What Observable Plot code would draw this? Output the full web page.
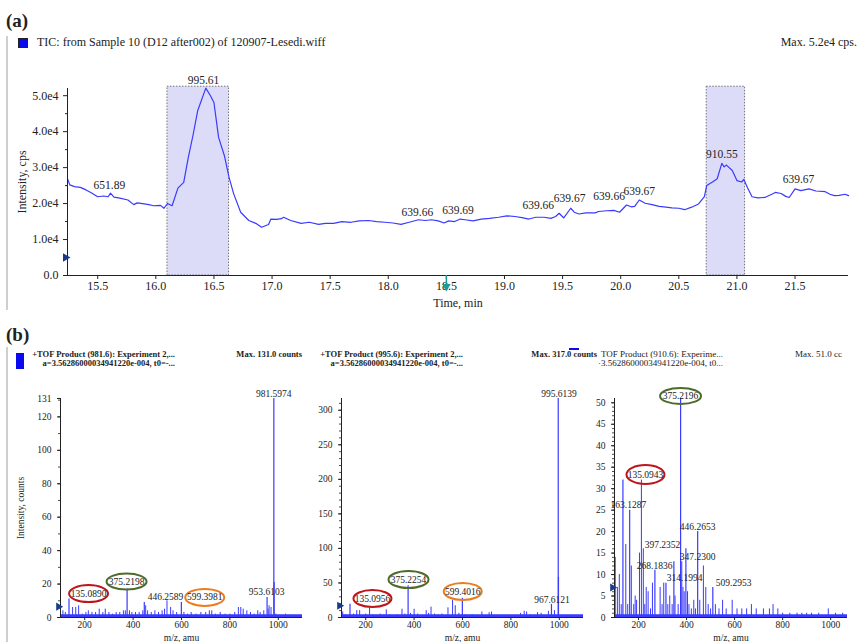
<!DOCTYPE html>
<html><head><meta charset="utf-8">
<script src="https://cdn.jsdelivr.net/npm/d3@7"></script>
<script src="https://cdn.jsdelivr.net/npm/@observablehq/plot@0.6"></script>
<style>
body{margin:0;background:#fff;}
#fig{position:relative;width:858px;height:642px;overflow:hidden;background:#fff;font-family:"Liberation Serif",serif;color:#222;}
#fig svg, #fig svg text{font-family:"Liberation Serif",serif !important;}
.t{position:absolute;white-space:nowrap;line-height:1;}
.p{position:absolute;}
</style></head><body><div id="fig"></div>
<script>
// ---------- (a) TIC chromatogram ----------
const ticTime = [15.24,15.26,15.30,15.35,15.40,15.44,15.50,15.55,15.59,15.61,15.64,15.69,15.76,15.81,15.84,15.90,15.94,15.98,16.04,16.07,16.10,16.14,16.19,16.24,16.28,16.32,16.36,16.43,16.47,16.50,16.54,16.59,16.63,16.67,16.73,16.80,16.86,16.91,16.97,16.99,17.04,17.08,17.10,17.16,17.25,17.32,17.40,17.46,17.53,17.60,17.68,17.75,17.83,17.90,17.97,18.04,18.11,18.18,18.26,18.32,18.37,18.43,18.48,18.52,18.57,18.62,18.66,18.73,18.80,18.87,18.95,19.02,19.09,19.15,19.21,19.27,19.34,19.40,19.44,19.47,19.51,19.57,19.60,19.64,19.70,19.78,19.81,19.88,19.94,19.99,20.05,20.09,20.12,20.16,20.21,20.27,20.33,20.39,20.44,20.50,20.55,20.61,20.67,20.72,20.74,20.79,20.83,20.87,20.89,20.91,20.96,21.00,21.04,21.06,21.09,21.13,21.18,21.24,21.30,21.33,21.38,21.42,21.45,21.50,21.55,21.62,21.68,21.76,21.80,21.84,21.88,21.93,21.96];
const ticIntensity = [2.69,2.52,2.47,2.45,2.38,2.31,2.19,2.21,2.19,2.29,2.18,2.15,2.10,1.97,2.02,1.99,1.97,1.94,1.95,1.87,2.00,1.94,2.43,2.59,3.29,3.90,4.58,5.21,5.00,4.81,3.84,3.33,2.73,2.27,1.76,1.53,1.45,1.34,1.42,1.57,1.56,1.58,1.62,1.53,1.45,1.48,1.42,1.45,1.45,1.50,1.48,1.52,1.53,1.50,1.48,1.46,1.42,1.48,1.55,1.53,1.55,1.52,1.46,1.52,1.50,1.57,1.55,1.52,1.57,1.59,1.62,1.66,1.64,1.61,1.57,1.62,1.62,1.59,1.64,1.73,1.60,1.87,1.76,1.71,1.74,1.74,1.78,1.80,1.81,1.76,1.96,1.91,1.92,2.10,2.01,1.97,1.92,1.90,1.88,1.87,1.83,1.90,1.99,2.19,2.50,2.60,2.69,3.12,3.02,3.07,2.92,2.64,2.60,2.67,2.45,2.19,2.16,2.17,2.26,2.31,2.28,2.20,2.17,2.41,2.36,2.41,2.35,2.33,2.26,2.22,2.23,2.26,2.22]; // x 1e4 cps
const ticScale = 1e4;
const timeTicks = [15.5,16.0,16.5,17.0,17.5,18.0,18.5,19.0,19.5,20.0,20.5,21.0,21.5];
const cpsTicks = [0,1e4,2e4,3e4,4e4,5e4];
const cpsMinor = [5e3,15e3,25e3,35e3,45e3];
const boxStart = [16.10, 20.74];
const boxEnd = [16.63, 21.07];
const boxTop = 5.25e4;
const ticLabelText = ["995.61","651.89","639.66","639.69","639.66","639.67","639.66","639.67","910.55","639.67"];
const ticLabelTime = [16.41,15.60,18.25,18.60,19.29,19.56,19.90,20.16,20.87,21.53];
const ticLabelInt  = [5.44,2.50,1.75,1.80,1.94,2.14,2.19,2.33,3.36,2.67];

// ---------- (b) product ion spectra ----------
// panel 1: precursor 981.6
const s1PeakMz  = [135.089,375.2198,446.2589,599.3981,953.6103,981.5974,982.6];
const s1PeakInt = [11,17,9,9,12,131,21];
const s1MinorMz  = [110,120,150,163,175,190,205,215,230,245,260,275,285,300,315,330,345,360,368,385,395,410,425,440,452,460,475,490,505,520,530,540,555,565,580,610,625,640,660,680,700,715,725,740,760,780,800,820,835,845,855,870,885,900,915,925,940,958,962,970,990,1010,1030,1050,1070,1090];
const s1MinorInt = [4,3,6,6,7,2,3,4,3,3,5,3,5,3,2,3,3,4,4,4,3,3,3,4,7,4,3,4,3,4,5,10,6,4,3,3,2,3,2,3,3,4,4,2,3,2,2,3,6,6,5,4,3,2,4,3,4,5,7,6,2,1,2,1,1,1];
const s1LabelText = ["135.0890","375.2198","446.2589","599.3981","953.6103","981.5974"];
const s1LabelMz   = [216,373,534,696,952,981];
const s1LabelInt  = [14.3,21.5,12,12,15.5,134];
const s1Ticks = [0,20,40,60,80,100,120,131];

// panel 2: precursor 995.6
const s2PeakMz  = [135.0956,375.2254,599.4016,967.6121,995.6139,996.6];
const s2PeakInt = [19,46,28,19,317,58];
const s2MinorMz  = [105,115,125,150,163,175,190,200,216,230,245,260,275,285,300,315,330,350,362,385,400,415,430,450,460,470,485,500,515,525,540,559,570,585,610,625,640,660,680,695,710,720,740,760,780,800,820,840,855,865,880,895,910,925,940,955,980,1020,1040,1060,1080];
const s2MinorInt = [8,4,3,5,10,10,3,5,14,4,3,5,4,11,4,3,4,12,5,6,12,5,3,10,6,15,5,4,5,3,14,25,17,6,4,3,4,3,8,3,7,8,3,2,3,2,3,6,9,8,4,3,7,6,3,9,10,2,1,2,1];
const s2LabelText = ["135.0956","375.2254","599.4016","967.6121","995.6139"];
const s2LabelMz   = [228,377,601,970,999];
const s2LabelInt  = [27.5,55,37.7,26,323];
const s2Ticks = [0,50,100,150,200,250,300];

// panel 3: precursor 910.6
const s3PeakMz  = [135.0943,163.1287,268.1836,314.1994,347.23,375.2196,397.2352,446.2653,509.2953];
const s3PeakInt = [32,25,11,8,13,51,16,20,7];
const s3MinorMz  = [103,112,120,128,147,155,170,180,186,192,204,212,220,226,232,240,250,258,290,298,305,322,330,340,352,365,380,385,390,404,410,420,430,437,455,470,480,490,500,520,535,550,565,590,610,630,650,670,690,720,745,760,780,800,830,860,880,900,920,950,990,1020,1050];
const s3MinorInt = [14,7,10,3,17,3,12,3,5,4,15,32,16,3,7,6,2,8,7,3,8,3,5,3,5,3,13,7,6,6,3,2,4,2,4,12,7,3,2,3,2,4,2,4,2,2,2,3,2,2,2,3,2,1,1,1,1,1,1,1,2,1,1];
const s3LabelText = ["135.0943","163.1287","268.1836","314.1994","347.2300","375.2196","397.2352","446.2653","509.2953"];
const s3LabelMz   = [229,158,267,392,446,375,300,446,596];
const s3LabelInt  = [33.3,26.3,12.1,9.3,14.2,51.6,17,21.2,8.1];
const s3Ticks = [0,5,10,15,20,25,30,35,40,45,50];
const mzTicks = [200,400,600,800,1000];

// ---------- helpers ----------
const fig = document.getElementById("fig");
const BLUE = "#3a3aff";
const FONT = "'Liberation Serif', serif";
function txt(s, x, cy, size, o = {}) {
  const d = document.createElement("div");
  d.className = "t";
  d.textContent = s;
  d.style.fontSize = size + "px";
  d.style.left = x + "px";
  d.style.top = (cy - size * 0.55) + "px";
  if (o.bold) d.style.fontWeight = "bold";
  if (o.anchor === "end") d.style.transform = "translateX(-100%)";
  fig.appendChild(d);
}
function box(x, y, w, h, css) {
  const d = document.createElement("div");
  d.className = "p";
  Object.assign(d.style, {left: x + "px", top: y + "px", width: w + "px", height: h + "px"}, css);
  fig.appendChild(d);
}
function place(svg, left, top) {
  svg.style.position = "absolute";
  svg.style.left = left + "px";
  svg.style.top = top + "px";
  fig.appendChild(svg);
}
function ellipse(rx, ry) {
  const k = 0.5523;
  return {draw(c) {
    c.moveTo(rx, 0);
    c.bezierCurveTo(rx, ry * k, rx * k, ry, 0, ry);
    c.bezierCurveTo(-rx * k, ry, -rx, ry * k, -rx, 0);
    c.bezierCurveTo(-rx, -ry * k, -rx * k, -ry, 0, -ry);
    c.bezierCurveTo(rx * k, -ry, rx, -ry * k, rx, 0);
    c.closePath();
  }};
}
const zip = (a, b) => a.map((v, i) => ({x: v, y: b[i]}));

// ---------- decorations / headers ----------
box(6, 36, 1.5, 274, {background: "#cfcfcf"});
box(6, 347, 1.5, 295, {background: "#cfcfcf"});
txt("(a)", 6, 21, 19, {bold: true});
box(18, 38, 8, 8, {background: "#0a0aee", border: "1px solid #222"});
txt("TIC: from Sample 10 (D12 after002) of 120907-Lesedi.wiff", 37, 43, 12);
txt("Max. 5.2e4 cps.", 857, 43, 12, {anchor: "end"});
txt("(b)", 6, 335, 19, {bold: true});
box(16, 353, 8, 16, {background: "#0a0aee"});
txt("+TOF Product (981.6): Experiment 2,...", 175, 355, 8.5, {bold: true, anchor: "end"});
txt("a=3.56286000034941220e-004, t0=-...", 175, 364, 8.5, {bold: true, anchor: "end"});
txt("Max. 131.0 counts", 302, 355, 8.5, {bold: true, anchor: "end"});
txt("+TOF Product (995.6): Experiment 2,...", 463, 355, 8.5, {bold: true, anchor: "end"});
txt("a=3.56286000034941220e-004, t0=-...", 463, 364, 8.5, {bold: true, anchor: "end"});
txt("Max. 317.0 counts", 597, 355, 8.5, {bold: true, anchor: "end"});
box(569, 348, 10, 2, {background: "#0a0aee"});
txt("TOF Product (910.6): Experime...", 723, 355, 9, {anchor: "end"});
txt("·3.56286000034941220e-004, t0...", 723, 364, 9, {anchor: "end"});
txt("Max. 51.0 cc", 795, 355, 9);

// ---------- (a) plot ----------
const ticData = ticTime.map((t, i) => ({t, v: ticIntensity[i] * ticScale}));
const boxes = boxStart.map((s, i) => ({x1: s, x2: boxEnd[i]}));
const ticLabels = ticLabelText.map((s, i) => ({s, t: ticLabelTime[i], v: ticLabelInt[i] * ticScale}));
const xDomA = [15.24, 21.96];
const plotA = Plot.plot({
  width: 858, height: 230,
  marginLeft: 67, marginRight: 10, marginTop: 8, marginBottom: 35,
  style: {fontFamily: FONT, fontSize: "11.5px", color: "#222", background: "transparent", overflow: "visible"},
  x: {domain: xDomA},
  y: {domain: [0, 52000]},
  marks: [
    Plot.rect(boxes, {x1: "x1", x2: "x2", y1: 0, y2: boxTop, fill: "#dcdcf8", stroke: "#555", strokeWidth: 0.8, strokeDasharray: "1.5,1.5"}),
    Plot.line(ticData, {x: "t", y: "v", stroke: BLUE, strokeWidth: 1.2}),
    Plot.axisX({ticks: timeTicks, tickFormat: d => d.toFixed(1), tickSize: 4, tickPadding: 2, fontSize: 12, fontFamily: FONT, label: "Time, min", labelAnchor: "center", labelOffset: 31, labelArrow: false}),
    Plot.axisY({ticks: cpsTicks, tickFormat: d => d === 0 ? "0.0" : (d / 1e4).toFixed(1) + "e4", tickSize: 4, fontSize: 12, fontFamily: FONT, label: "Intensity, cps", labelAnchor: "center", labelOffset: 50, labelArrow: false}),
    Plot.axisY({ticks: cpsMinor, tickFormat: () => "", tickSize: 2, label: null}),
    Plot.ruleY([0], {stroke: "#222"}),
    Plot.ruleX([xDomA[0]], {y1: 0, y2: 52000, stroke: "#222"}),
    Plot.text(ticLabels, {x: "t", y: "v", text: "s", fontSize: 11.5, fontFamily: FONT, fill: "#222"}),
    Plot.dot([5000], {x: xDomA[0], y: d => d, symbol: "triangle", rotate: 90, r: 3.2, fill: "#1b3a8a", dx: -2}),
    Plot.dot([18.5], {x: d => d, y: 0, symbol: "triangle", rotate: 180, r: 3.2, fill: "#1f9a9a", dy: 11}),
    Plot.ruleX([18.5], {y1: 0, y2: 0, stroke: "#1f9a9a", strokeWidth: 1.5, insetBottom: -10})
  ]
});
place(plotA, 0, 80);

// ---------- (b) spectra ----------
function spectrum(cfg) {
  const major = zip(cfg.peakMz, cfg.peakInt);
  const minor = zip(cfg.minorMz, cfg.minorInt);
  const labels = cfg.labelText.map((s, i) => ({s, x: cfg.labelMz[i], y: cfg.labelInt[i]}));
  const marks = [
    Plot.ruleX(minor, {x: "x", y1: 0, y2: "y", stroke: BLUE, strokeWidth: 1}),
    Plot.ruleX(major, {x: "x", y1: 0, y2: "y", stroke: BLUE, strokeWidth: 1.2}),
    Plot.ruleY([0], {stroke: BLUE, strokeWidth: 3.5, dy: -1.5}),
    Plot.axisX({ticks: mzTicks, tickFormat: d => String(d), tickSize: 3, tickPadding: 1, fontSize: 9.5, fontFamily: FONT, label: "m/z, amu", labelAnchor: "center", labelOffset: 23, labelArrow: false}),
    Plot.axisY({ticks: cfg.yTicks, tickFormat: d => String(d), tickSize: 3, fontSize: 9.5, fontFamily: FONT, label: cfg.ylabel || null, labelAnchor: "center", labelOffset: 43, labelArrow: false}),
    Plot.axisY({ticks: cfg.yMinor, tickFormat: () => "", tickSize: 2, label: null, strokeOpacity: 0.8}),
    Plot.ruleY([0], {stroke: "#222"}),
    Plot.ruleX([cfg.xDomain[0]], {y1: 0, y2: cfg.yMax, stroke: "#222"}),
    Plot.dot([cfg.markerY], {x: cfg.xDomain[0], y: d => d, symbol: "triangle", rotate: 90, r: 3, fill: "#1b3a8a", dx: -2})
  ];
  for (const c of cfg.circles) {
    const L = labels[c.i];
    marks.push(Plot.dot([L], {x: "x", y: "y", symbol: ellipse(c.rx, c.ry), r: 5, fill: "none", stroke: c.color, strokeWidth: 2}));
  }
  marks.push(Plot.text(labels, {x: "x", y: "y", text: "s", fontSize: 9.5, fontFamily: FONT, fill: "#222"}));
  return Plot.plot({
    width: cfg.width, height: 257,
    marginLeft: cfg.mL, marginRight: cfg.mR, marginTop: 13, marginBottom: 25,
    style: {fontFamily: FONT, fontSize: "9.5px", color: "#222", background: "transparent", overflow: "visible"},
    x: {domain: cfg.xDomain},
    y: {domain: [0, cfg.yMax]},
    marks
  });
}
const RED = "#c0141c", GREEN = "#4e6b2a", ORANGE = "#ec7c1e";
place(spectrum({
  width: 310, mL: 60, mR: 8, xDomain: [100, 1100], yMax: 131,
  peakMz: s1PeakMz, peakInt: s1PeakInt, minorMz: s1MinorMz, minorInt: s1MinorInt,
  labelText: s1LabelText, labelMz: s1LabelMz, labelInt: s1LabelInt,
  yTicks: s1Ticks, yMinor: d3.range(10, 131, 10), ylabel: "Intensity, counts", markerY: 6.5,
  circles: [{i: 0, rx: 19.5, ry: 8.5, color: RED}, {i: 1, rx: 20, ry: 8, color: GREEN}, {i: 3, rx: 19.5, ry: 8.5, color: ORANGE}]
}), 0, 385);
place(spectrum({
  width: 300, mL: 51, mR: 7, xDomain: [100, 1100], yMax: 317,
  peakMz: s2PeakMz, peakInt: s2PeakInt, minorMz: s2MinorMz, minorInt: s2MinorInt,
  labelText: s2LabelText, labelMz: s2LabelMz, labelInt: s2LabelInt,
  yTicks: s2Ticks, yMinor: d3.range(10, 317, 10), markerY: 17,
  circles: [{i: 0, rx: 19, ry: 8.5, color: RED}, {i: 1, rx: 20, ry: 8.5, color: GREEN}, {i: 2, rx: 19, ry: 8.5, color: ORANGE}]
}), 290, 385);
place(spectrum({
  width: 288, mL: 44, mR: 11, xDomain: [100, 1070], yMax: 51,
  peakMz: s3PeakMz, peakInt: s3PeakInt, minorMz: s3MinorMz, minorInt: s3MinorInt,
  labelText: s3LabelText, labelMz: s3LabelMz, labelInt: s3LabelInt,
  yTicks: s3Ticks, yMinor: d3.range(1, 51, 1), markerY: 7,
  circles: [{i: 0, rx: 19, ry: 9.5, color: RED}, {i: 5, rx: 20.5, ry: 8, color: GREEN}]
}), 570, 385);
</script>
</body></html>
